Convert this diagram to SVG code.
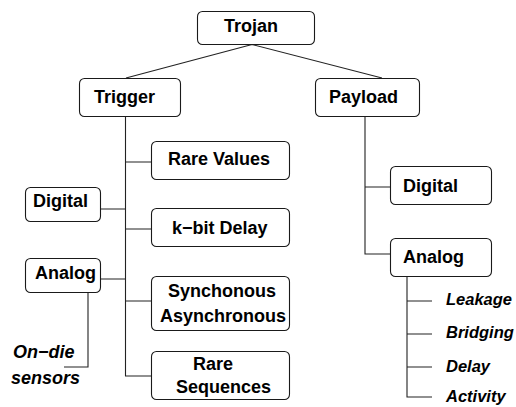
<svg xmlns="http://www.w3.org/2000/svg" width="516" height="407" viewBox="0 0 516 407">
<style>
.box{fill:#fff;stroke:#1a1a1a;stroke-width:1.1}
.t{font-family:"Liberation Sans",Arial,sans-serif;font-weight:bold;font-size:18px;fill:#000}
.i{font-family:"Liberation Sans",Arial,sans-serif;font-weight:bold;font-style:italic;fill:#000}
.c{fill:none;stroke:#222;stroke-width:1.1}
</style>
<rect width="516" height="407" fill="#fff"/>
<g id="connectors">
<path class="c" d="M252,44.5 L126,78 M252,44.5 L382,78"/>
<path class="c" d="M125.5,116 V376 H151 M125.5,162 H151 M100,209 H125.5 M125.5,229 H151 M100,279 H125.5 M125.5,301 H151"/>
<path class="c" d="M88,292 V367 H64"/>
<path class="c" d="M365,116 V254 H390 M365,187 H390"/>
<path class="c" d="M407,276 V397 H432 M407,301 H432 M407,334 H432 M407,367 H432"/>
</g>
<g id="trojan"><rect class="box" x="197.5" y="11.5" width="117" height="33" rx="5"/><text class="t" x="224" y="32">Trojan</text></g>
<g id="trigger"><rect class="box" x="79.5" y="78.5" width="101" height="38" rx="5"/><text class="t" x="94" y="103">Trigger</text></g>
<g id="payload"><rect class="box" x="315.5" y="78.5" width="104" height="38" rx="5"/><text class="t" x="329" y="103">Payload</text></g>
<g id="rare-values"><rect class="box" x="151.5" y="141.5" width="138" height="38" rx="5"/><text class="t" x="168" y="165">Rare Values</text></g>
<g id="trig-digital"><rect class="box" x="25.5" y="187.5" width="75" height="34" rx="5"/><text class="t" x="33" y="207">Digital</text></g>
<g id="kbit-delay"><rect class="box" x="151.5" y="208.5" width="138" height="38" rx="5"/><text class="t" x="172" y="234">k−bit Delay</text></g>
<g id="trig-analog"><rect class="box" x="25.5" y="258.5" width="75" height="34" rx="5"/><text class="t" x="35" y="279">Analog</text></g>
<g id="sync"><rect class="box" x="151.5" y="276.5" width="138" height="54" rx="5"/><text class="t" x="168" y="297">Synchonous</text><text class="t" x="160" y="322">Asynchronous</text></g>
<g id="rare-seq"><rect class="box" x="151.5" y="351.5" width="138" height="48" rx="5"/><text class="t" x="193" y="370">Rare</text><text class="t" x="176" y="393">Sequences</text></g>
<g id="on-die"><text class="i" font-size="18" x="13" y="358">On−die</text><text class="i" font-size="18" x="11" y="384">sensors</text></g>
<g id="pay-digital"><rect class="box" x="390.5" y="166.5" width="101" height="38" rx="5"/><text class="t" x="403" y="192">Digital</text></g>
<g id="pay-analog"><rect class="box" x="390.5" y="238.5" width="101" height="38" rx="5"/><text class="t" x="403" y="263">Analog</text></g>
<g id="leaves">
<text class="i" font-size="16.5" x="446" y="305">Leakage</text>
<text class="i" font-size="16.5" x="446" y="338">Bridging</text>
<text class="i" font-size="16.5" x="446" y="372">Delay</text>
<text class="i" font-size="16.5" x="446" y="402">Activity</text>
</g>
</svg>
